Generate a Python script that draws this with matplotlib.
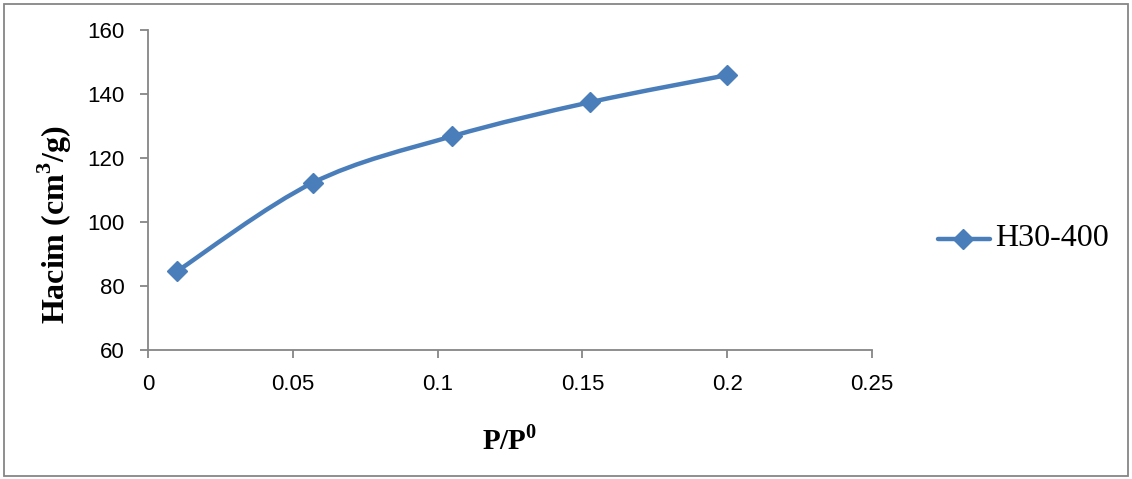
import matplotlib
matplotlib.use('Agg')
import matplotlib.pyplot as plt
from matplotlib.path import Path
from matplotlib.patches import PathPatch, Rectangle
from matplotlib.lines import Line2D

plt.rcParams['mathtext.fontset'] = 'custom'
plt.rcParams['mathtext.rm'] = 'Liberation Serif:bold'
plt.rcParams['mathtext.bf'] = 'Liberation Serif:bold'

# data
pressure = [0.01, 0.057, 0.105, 0.1525, 0.2]
volume = [84.6, 112.3, 126.8, 137.4, 145.9]
series_name = 'H30-400'
color = '#4a7ebb'

fig = plt.figure(figsize=(11.32, 4.79), dpi=100)
ax = fig.add_axes([148 / 1132, 1 - 350 / 479, 724 / 1132, 320 / 479])

# Excel-style smoothed line (Catmull-Rom as cubic Bezier)
pts = list(zip(pressure, volume))
verts = [pts[0]]
codes = [Path.MOVETO]
for i in range(len(pts) - 1):
    p0 = pts[i - 1] if i > 0 else pts[i]
    p1 = pts[i]
    p2 = pts[i + 1]
    p3 = pts[i + 2] if i + 2 < len(pts) else pts[i + 1]
    c1 = (p1[0] + (p2[0] - p0[0]) / 6, p1[1] + (p2[1] - p0[1]) / 6)
    c2 = (p2[0] - (p3[0] - p1[0]) / 6, p2[1] - (p3[1] - p1[1]) / 6)
    verts += [c1, c2, p2]
    codes += [Path.CURVE4] * 3
ax.add_patch(PathPatch(Path(verts, codes), fill=False, edgecolor=color,
                       lw=3.2, capstyle='round', joinstyle='round', zorder=2))
ax.plot(pressure, volume, ls='none', marker='D', ms=10, color=color,
        mec=color, zorder=3)

ax.set_xlim(0, 0.25)
ax.set_ylim(60, 160)
ax.set_xticks([0, 0.05, 0.1, 0.15, 0.2, 0.25])
ax.set_xticklabels(['0', '0.05', '0.1', '0.15', '0.2', '0.25'])
ax.set_yticks([60, 80, 100, 120, 140, 160])
for s in ['top', 'right']:
    ax.spines[s].set_visible(False)
for s in ['left', 'bottom']:
    ax.spines[s].set_color('#868686')
    ax.spines[s].set_linewidth(1.3)
ax.tick_params(direction='out', length=6, width=1.3, color='#868686',
               labelsize=16, pad=11)
for lab in ax.get_xticklabels() + ax.get_yticklabels():
    lab.set_fontfamily('Liberation Sans')

fig.text(55 / 1132, 1 - 225 / 479, r'Hacim (cm$^{3}$/g)', rotation=90,
         ha='center', va='center', fontsize=23, fontweight='bold',
         family='Liberation Serif')
fig.text(510 / 1132, 1 - 440 / 479, r'P/P$^{0}$', ha='center', va='center',
         fontsize=21, fontweight='bold', family='Liberation Serif')

# legend
fig.add_artist(Line2D([938 / 1132, 990 / 1132], [1 - 239 / 479] * 2,
                      color=color, lw=3.2, solid_capstyle='round'))
fig.add_artist(Line2D([963 / 1132], [1 - 239 / 479], color=color,
                      marker='D', ms=10, ls='none'))
fig.text(995 / 1132, 1 - 239 / 479, series_name, ha='left', va='center',
         fontsize=23, family='Liberation Serif')

fig.add_artist(Rectangle((4 / 1132, 3 / 479), 1124 / 1132, 472 / 479,
                         transform=fig.transFigure, fill=False,
                         edgecolor='#868686', lw=1.3))

fig.savefig('out.png', dpi=100)
